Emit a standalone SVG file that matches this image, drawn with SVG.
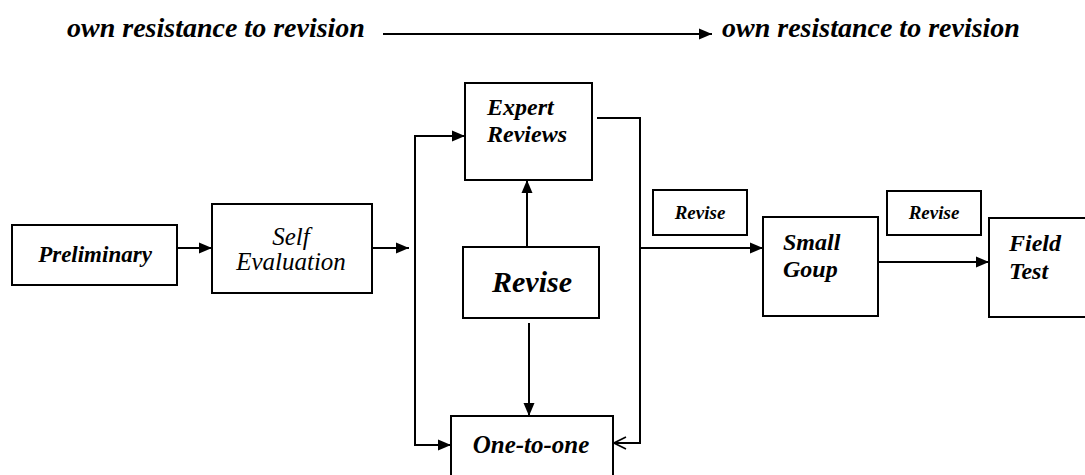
<svg xmlns="http://www.w3.org/2000/svg" width="1085" height="475" viewBox="0 0 1085 475">
<style>
  .box { fill: #fff; stroke: #000; stroke-width: 2; }
  .t { font-family: "Liberation Serif", "Times New Roman", serif; font-style: italic; fill: #000; }
  .b { font-weight: bold; }
  .c { text-anchor: middle; }
  .ln { fill: none; stroke: #000; stroke-width: 2; }
</style>
<defs>
  <marker id="ah" markerUnits="userSpaceOnUse" markerWidth="14" markerHeight="12" refX="13" refY="6" orient="auto-start-reverse">
    <path d="M0,0.5 L13,6 L0,11.5 z" fill="#000"/>
  </marker>
  <marker id="open" markerUnits="userSpaceOnUse" markerWidth="14" markerHeight="14" refX="13" refY="7" orient="auto">
    <path d="M1,1 L13,7 L1,13" fill="none" stroke="#000" stroke-width="1.6"/>
  </marker>
</defs>

<g id="header">
  <text class="t b" x="67" y="37" font-size="28">own resistance to revision</text>
  <text class="t b" x="722" y="37" font-size="28">own resistance to revision</text>
</g>

<g id="connectors">
  <path class="ln" d="M383,34 H712" stroke-width="1.6" marker-end="url(#ah)"/>
  <path class="ln" d="M177,248 H212" marker-end="url(#ah)"/>
  <path class="ln" d="M372,248 H409" marker-end="url(#ah)"/>
  <path class="ln" d="M465,136 H415 V445 H451" marker-start="url(#ah)" marker-end="url(#ah)"/>
  <path class="ln" d="M527,247 V180" marker-end="url(#ah)"/>
  <path class="ln" d="M529,323 V416" marker-end="url(#ah)"/>
  <path class="ln" d="M597,118 H640 V443 H614" marker-end="url(#open)"/>
  <path class="ln" d="M640,248 H763" marker-end="url(#ah)"/>
  <path class="ln" d="M878,262 H989" marker-end="url(#ah)"/>
</g>

<g id="preliminary">
  <rect class="box" x="12" y="225" width="165" height="60"/>
  <text class="t b c" x="95" y="262" font-size="23">Preliminary</text>
</g>

<g id="self-evaluation">
  <rect class="box" x="212" y="204" width="160" height="89"/>
  <text class="t c" x="291" y="245" font-size="25">Self</text>
  <text class="t c" x="291" y="270" font-size="25">Evaluation</text>
</g>

<g id="expert-reviews">
  <rect class="box" x="465" y="83" width="127" height="97"/>
  <text class="t b" x="487" y="115" font-size="24">Expert</text>
  <text class="t b" x="487" y="142" font-size="24">Reviews</text>
</g>

<g id="revise-center">
  <rect class="box" x="463" y="247" width="136" height="71"/>
  <text class="t b c" x="532" y="292" font-size="30">Revise</text>
</g>

<g id="one-to-one">
  <rect class="box" x="451" y="416" width="162" height="70"/>
  <text class="t b c" x="531" y="453" font-size="25">One-to-one</text>
</g>

<g id="revise-1">
  <rect class="box" x="653" y="190" width="94" height="45"/>
  <text class="t b c" x="700" y="219" font-size="19">Revise</text>
</g>

<g id="small-group">
  <rect class="box" x="763" y="217" width="115" height="99"/>
  <text class="t b" x="783" y="250" font-size="24">Small</text>
  <text class="t b" x="783" y="277" font-size="24">Goup</text>
</g>

<g id="revise-2">
  <rect class="box" x="887" y="191" width="94" height="44"/>
  <text class="t b c" x="934" y="219" font-size="19">Revise</text>
</g>

<g id="field-test">
  <rect class="box" x="989" y="218" width="106" height="99"/>
  <text class="t b" x="1009" y="251" font-size="24">Field</text>
  <text class="t b" x="1009" y="279" font-size="24">Test</text>
</g>
</svg>
